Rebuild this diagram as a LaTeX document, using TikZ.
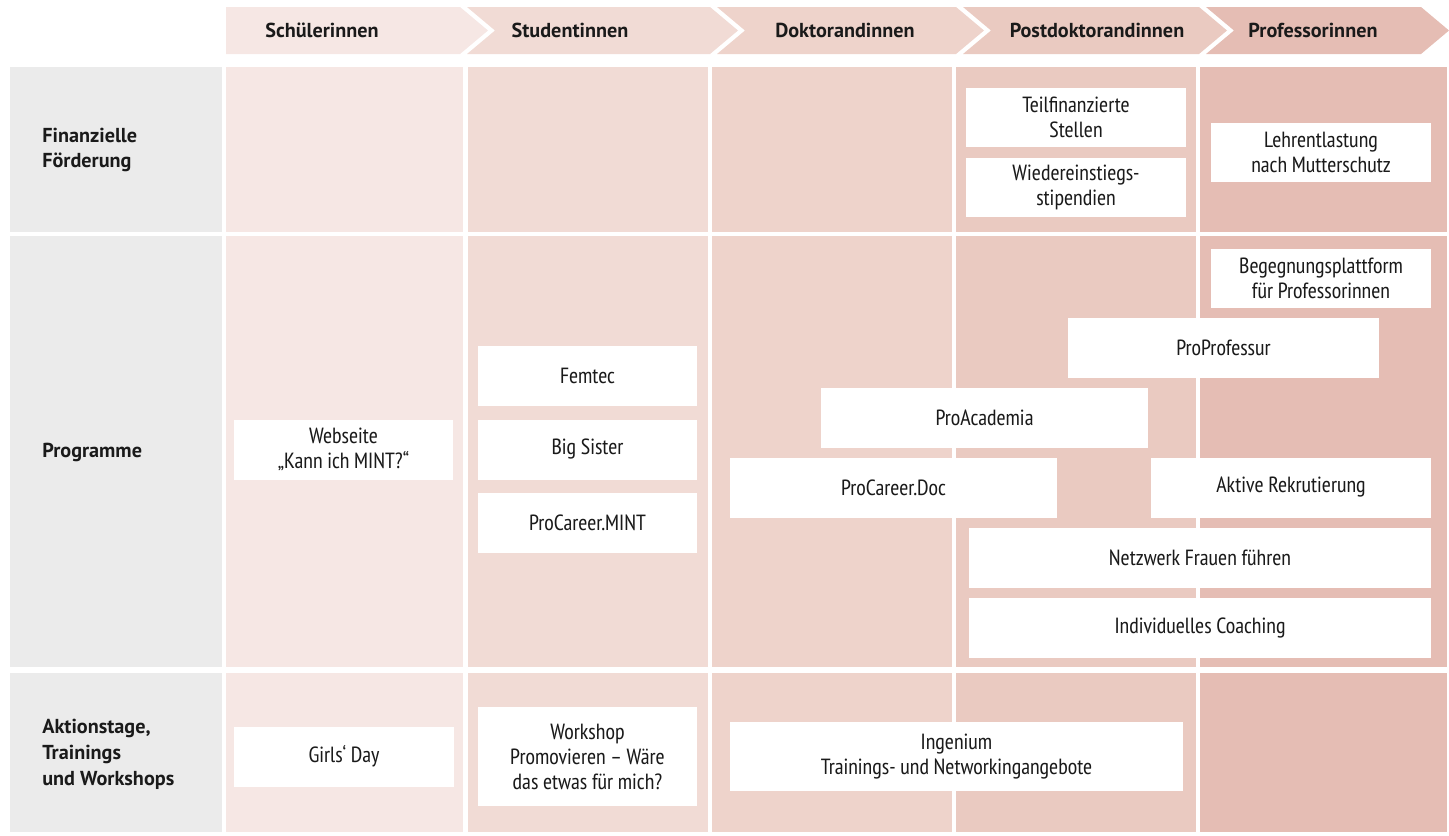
\documentclass[tikz,border=0pt]{standalone}
\usepackage{fontspec}
\setmainfont{PT Sans Narrow}
\newfontfamily\headfont{PT Sans}
\usepackage{tikz}
\usetikzlibrary{positioning}
\definecolor{ink}{RGB}{26,26,26}
\definecolor{labelgray}{RGB}{235,235,235}
\definecolor{stageA}{RGB}{246,231,228}
\definecolor{stageB}{RGB}{241,219,213}
\definecolor{stageC}{RGB}{238,211,203}
\definecolor{stageD}{RGB}{234,202,193}
\definecolor{stageE}{RGB}{229,189,180}

\begin{document}
\begin{tikzpicture}[
    x=0.02cm, y=-0.02cm,
    offer/.style={rectangle, fill=white, inner sep=0pt, align=center, text=ink,
        minimum width=4.4cm, minimum height=1.2cm, font=\fontsize{12.5}{14.2}\selectfont},
    stagelabel/.style={text=ink, font=\headfont\bfseries\fontsize{11.5}{13}\selectfont},
    rowlabel/.style={anchor=west, align=left, inner sep=0pt, text=ink, font=\headfont\bfseries\fontsize{11.5}{14.7}\selectfont}
]
    \useasboundingbox (0,0) rectangle (1449,835);

    % header chevrons
    \fill[stageA] (226,7) -- (460,7) -- (488,30.5) -- (460,54) -- (226,54) -- cycle;
    \foreach \l/\r/\c in {467/710/stageB, 717/956/stageC, 963/1199/stageD, 1206/1421/stageE}
        \fill[\c] (\l,7) -- (\r,7) -- (\r+28,30.5) -- (\r,54) -- (\l,54) -- (\l+28,30.5) -- cycle;

    \node[stagelabel] (s1) at (322,30.5) {Schülerinnen};
    \node[stagelabel] (s2) at (570,30.5) {Studentinnen};
    \node[stagelabel] (s3) at (845,30.5) {Doktorandinnen};
    \node[stagelabel] (s4) at (1097,30.5) {Postdoktorandinnen};
    \node[stagelabel] (s5) at (1313,30.5) {Professorinnen};

    % table cells
    \foreach \t/\b in {67/232, 236/667, 673/832} {
        \fill[labelgray] (10,\t) rectangle (222,\b);
        \fill[stageA] (226,\t) rectangle (463,\b);
        \fill[stageB] (468,\t) rectangle (708,\b);
        \fill[stageC] (712,\t) rectangle (952,\b);
        \fill[stageD] (956,\t) rectangle (1196,\b);
        \fill[stageE] (1200,\t) rectangle (1447,\b);
    }

    % row labels
    \node[rowlabel] (finanz) at (42,150) {Finanzielle\\Förderung};
    \node[rowlabel] (prog) at (42,452) {Programme};
    \node[rowlabel] (aktion) at (42,754) {Aktionstage,\\Trainings\\und Workshops};

    % Finanzielle Foerderung
    \node[offer] (teil) at (1076,117.5) {Teilfinanzierte\\Stellen};
    \node[offer] (wieder) at (1076,187.5) {Wiedereinstiegs-\\stipendien};
    \node[offer] (lehr) at (1321,152.5) {Lehrentlastung\\nach Mutterschutz};

    % Programme
    \node[offer] (webseite) at (343.5,449.5) {Webseite\\„Kann ich MINT?“};
    \node[offer] (femtec) at (587.5,375.5) {Femtec};
    \node[offer] (bigsis) at (587.5,449.5) {Big Sister};
    \node[offer] (pcmint) at (587.5,522.5) {ProCareer.MINT};
    \node[offer] (begegnung) at (1321,278.5) {Begegnungsplattform\\für Professorinnen};
    \node[offer, minimum width=6.22cm] (proprof) at (1223.5,348) {ProProfessur};
    \node[offer, minimum width=6.54cm] (proacad) at (984.5,417.5) {ProAcademia};
    \node[offer, minimum width=6.54cm] (pcdoc) at (893.5,487.5) {ProCareer.Doc};
    \node[offer, minimum width=5.6cm] (aktiv) at (1291,487.5) {Aktive Rekrutierung};
    \node[offer, minimum width=9.24cm] (netz) at (1200,557.5) {Netzwerk Frauen führen};
    \node[offer, minimum width=9.24cm] (coach) at (1200,627.5) {Individuelles Coaching};

    % Aktionstage
    \node[offer] (girls) at (344,756.5) {Girls‘ Day};
    \node[offer, minimum height=1.98cm] (workshop) at (587.5,756.5) {Workshop\\Promovieren – Wäre\\das etwas für mich?};
    \node[offer, minimum width=9.06cm, minimum height=1.38cm] (ingenium) at (956.5,756.5) {Ingenium\\Trainings- und Networkingangebote};
\end{tikzpicture}
\end{document}
